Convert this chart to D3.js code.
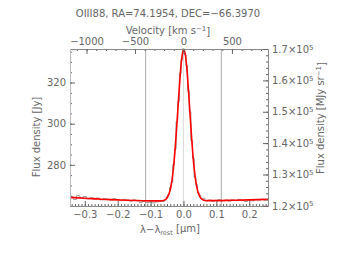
<!DOCTYPE html>
<html>
<head>
<script src="https://d3js.org/d3.v7.min.js"></script>
<style>
  body { margin: 0; background: #fff; }
  text { font-family: "DejaVu Sans", sans-serif; fill: #666; }
</style>
</head>
<body>
<script>
// 観測スペクトル (灰色のステップ)
const dataLam = [-0.34, -0.33, -0.32, -0.31, -0.30, -0.29, -0.28, -0.27, -0.26, -0.25,
  -0.24, -0.23, -0.22, -0.21, -0.20, -0.19, -0.18, -0.17, -0.16, -0.15,
  -0.14, -0.13, -0.12, -0.11, -0.10, -0.09, -0.08, -0.07,
  -0.06, -0.055, -0.05, -0.045, -0.04, -0.035, -0.03, -0.025, -0.02, -0.015, -0.01, -0.005,
  0.0, 0.005, 0.01, 0.015, 0.02, 0.025, 0.03, 0.035, 0.04, 0.045, 0.05, 0.055, 0.06,
  0.07, 0.08, 0.09, 0.10, 0.11, 0.12, 0.13, 0.14, 0.15, 0.16, 0.17, 0.18, 0.19, 0.20,
  0.21, 0.22, 0.23, 0.24, 0.25];
const dataFlux = [264.5, 263.2, 265.0, 263.8, 264.6, 263.5, 264.0, 263.3, 263.9, 263.0,
  263.6, 263.4, 262.8, 263.5, 263.1, 262.6, 263.2, 262.9, 262.4, 263.0,
  262.5, 261.8, 262.3, 261.6, 261.9, 261.5, 262.0, 262.4,
  262.2, 263.0, 264.5, 265.8, 268.9, 271.5, 280.2, 287.6, 301.0, 310.8, 324.5, 331.2,
  336.4, 333.5, 328.2, 315.9, 305.8, 291.8, 283.3, 273.9, 270.4, 266.5, 265.3, 263.4, 263.8,
  262.6, 262.9, 262.3, 262.8, 263.1, 262.5, 262.9, 262.4, 263.0, 262.7, 263.2, 262.6,
  262.2, 262.8, 262.5, 263.1, 262.9, 263.3, 262.8];

// フィット (赤線)
const fitLam = [-0.345, -0.30, -0.25, -0.20, -0.15, -0.10, -0.07, -0.06, -0.05, -0.04,
  -0.035, -0.03, -0.025, -0.02, -0.015, -0.01, -0.005, 0.0, 0.005, 0.01, 0.015, 0.02,
  0.025, 0.03, 0.035, 0.04, 0.05, 0.06, 0.07, 0.10, 0.15, 0.20, 0.257];
const fitFlux = [264.2, 263.8, 263.3, 263.0, 262.7, 262.5, 262.5, 262.7, 263.9, 268.0,
  272.4, 279.2, 288.5, 299.7, 312.0, 323.5, 332.0, 335.9, 334.2, 327.4, 316.8, 304.6,
  292.7, 282.5, 274.9, 269.5, 264.4, 262.9, 262.6, 262.6, 262.8, 263.0, 263.2];

// 縦線
const markLines = [-0.115, 0.0, 0.115];

// 目盛り
const lamTicks = [-0.3, -0.2, -0.1, 0.0, 0.1, 0.2];
const velTicks = [-1000, -500, 0, 500];
const fluxTicks = [280, 300, 320];
const mjyTicks = [1.2e5, 1.3e5, 1.4e5, 1.5e5, 1.6e5, 1.7e5];

const width = 338, height = 254;
const mLeft = 70, mRight = 268, mTop = 49, mBottom = 206;
const lamRest = 88.356, c = 299792.458;
const fs = "10px";

const svg = d3.select("body").append("svg")
  .attr("width", width).attr("height", height);
svg.append("rect").attr("width", width).attr("height", height).attr("fill", "#fff");

const x = d3.scaleLinear().domain([-0.345, 0.257]).range([mLeft, mRight]);
const y = d3.scaleLinear().domain([260, 336.3]).range([mBottom, mTop]);
const yR = d3.scaleLinear().domain([1.1995e5, 1.7e5]).range([mBottom, mTop]);
const xV = d3.scaleLinear()
  .domain(x.domain().map(l => l / lamRest * c)).range([mLeft, mRight]);

// 縦線
svg.selectAll("line.mark").data(markLines).enter().append("line")
  .attr("x1", d => x(d)).attr("x2", d => x(d))
  .attr("y1", mTop).attr("y2", mBottom)
  .attr("stroke", d => d === 0 ? "#ddd" : "#aaa").attr("stroke-width", 1);

// データ
svg.append("path")
  .datum(dataLam.map((l, i) => [l, dataFlux[i]]))
  .attr("fill", "none").attr("stroke", "#999").attr("stroke-width", 1)
  .attr("d", d3.line().x(d => x(d[0])).y(d => y(d[1])).curve(d3.curveStep));

svg.append("path")
  .datum(fitLam.map((l, i) => [l, fitFlux[i]]))
  .attr("fill", "none").attr("stroke", "#f00").attr("stroke-width", 1.6)
  .attr("d", d3.line().x(d => x(d[0])).y(d => y(d[1])).curve(d3.curveMonotoneX));

function styleAxis(g) {
  g.select(".domain").attr("stroke", "#888");
  g.selectAll(".tick line").attr("stroke", "#666");
  g.selectAll("text").attr("fill", "#666").style("font-size", fs)
    .style("font-family", "DejaVu Sans, sans-serif");
}

// 下の軸
svg.append("g").attr("transform", `translate(0,${mBottom})`)
  .call(d3.axisBottom(x).tickValues(d3.range(-34, 26).map(v => v / 100))
    .tickFormat("").tickSizeInner(-2).tickSizeOuter(0)).call(styleAxis);
svg.append("g").attr("transform", `translate(0,${mBottom})`)
  .call(d3.axisBottom(x).tickValues(lamTicks)
    .tickSizeInner(-5).tickSizeOuter(0).tickPadding(5)).call(styleAxis)
  .selectAll("text").text(d => d3.format(".1f")(d).replace("-", "\u2212"));

// 上の軸
svg.append("g").attr("transform", `translate(0,${mTop})`)
  .call(d3.axisTop(xV).tickValues(d3.range(-1100, 900, 100))
    .tickFormat("").tickSizeInner(-2).tickSizeOuter(0)).call(styleAxis);
svg.append("g").attr("transform", `translate(0,${mTop})`)
  .call(d3.axisTop(xV).tickValues(velTicks)
    .tickSizeInner(-5).tickSizeOuter(0).tickPadding(4)).call(styleAxis)
  .selectAll("text").text(d => String(d).replace("-", "\u2212"));

// 左の軸
svg.append("g").attr("transform", `translate(${mLeft},0)`)
  .call(d3.axisLeft(y).tickValues(d3.range(265, 336, 5))
    .tickFormat("").tickSizeInner(-2).tickSizeOuter(0)).call(styleAxis)
  .select(".domain").attr("stroke", "#bbb");
svg.append("g").attr("transform", `translate(${mLeft},0)`)
  .call(d3.axisLeft(y).tickValues(fluxTicks)
    .tickSizeInner(-5).tickSizeOuter(0).tickPadding(4)).call(styleAxis)
  .select(".domain").attr("stroke", "#bbb");

// 右の軸
svg.append("g").attr("transform", `translate(${mRight},0)`)
  .call(d3.axisRight(yR).tickValues(d3.range(1.2e5, 1.7001e5, 2e3))
    .tickFormat("").tickSizeInner(-2).tickSizeOuter(0)).call(styleAxis);
const gR = svg.append("g").attr("transform", `translate(${mRight},0)`)
  .call(d3.axisRight(yR).tickValues(mjyTicks)
    .tickSizeInner(-5).tickSizeOuter(0).tickPadding(4)).call(styleAxis);
gR.selectAll("text").text(null).each(function (d) {
  const t = d3.select(this);
  t.append("tspan").text((d / 1e5).toFixed(1) + "\u00d710");
  t.append("tspan").attr("dy", "-0.45em").style("font-size", "7px").text("5");
});

// ラベル
svg.append("text").attr("x", 168).attr("y", 17).attr("text-anchor", "middle")
  .style("font-size", fs).text("OIII88, RA=74.1954, DEC=\u221266.3970");

const vl = svg.append("text").attr("x", 168).attr("y", 34).attr("text-anchor", "middle")
  .style("font-size", fs);
vl.append("tspan").text("Velocity [km s");
vl.append("tspan").attr("dy", "-0.45em").style("font-size", "7px").text("\u22121");
vl.append("tspan").attr("dy", "0.45em").text("]");

const xl = svg.append("text").attr("x", 170).attr("y", 233).attr("text-anchor", "middle")
  .style("font-size", fs);
xl.append("tspan").text("\u03bb\u2212\u03bb");
xl.append("tspan").attr("dy", "0.3em").style("font-size", "6.5px").text("rest");
xl.append("tspan").attr("dy", "-0.3em").text(" [\u03bcm]");

svg.append("text").attr("transform", "translate(40,137) rotate(-90)")
  .attr("text-anchor", "middle").style("font-size", fs).text("Flux density [Jy]");

const rl = svg.append("text").attr("transform", "translate(324,118) rotate(-90)")
  .attr("text-anchor", "middle").style("font-size", fs);
rl.append("tspan").text("Flux density [MJy sr");
rl.append("tspan").attr("dy", "-0.45em").style("font-size", "7px").text("\u22121");
rl.append("tspan").attr("dy", "0.45em").text("]");
</script>
</body>
</html>
